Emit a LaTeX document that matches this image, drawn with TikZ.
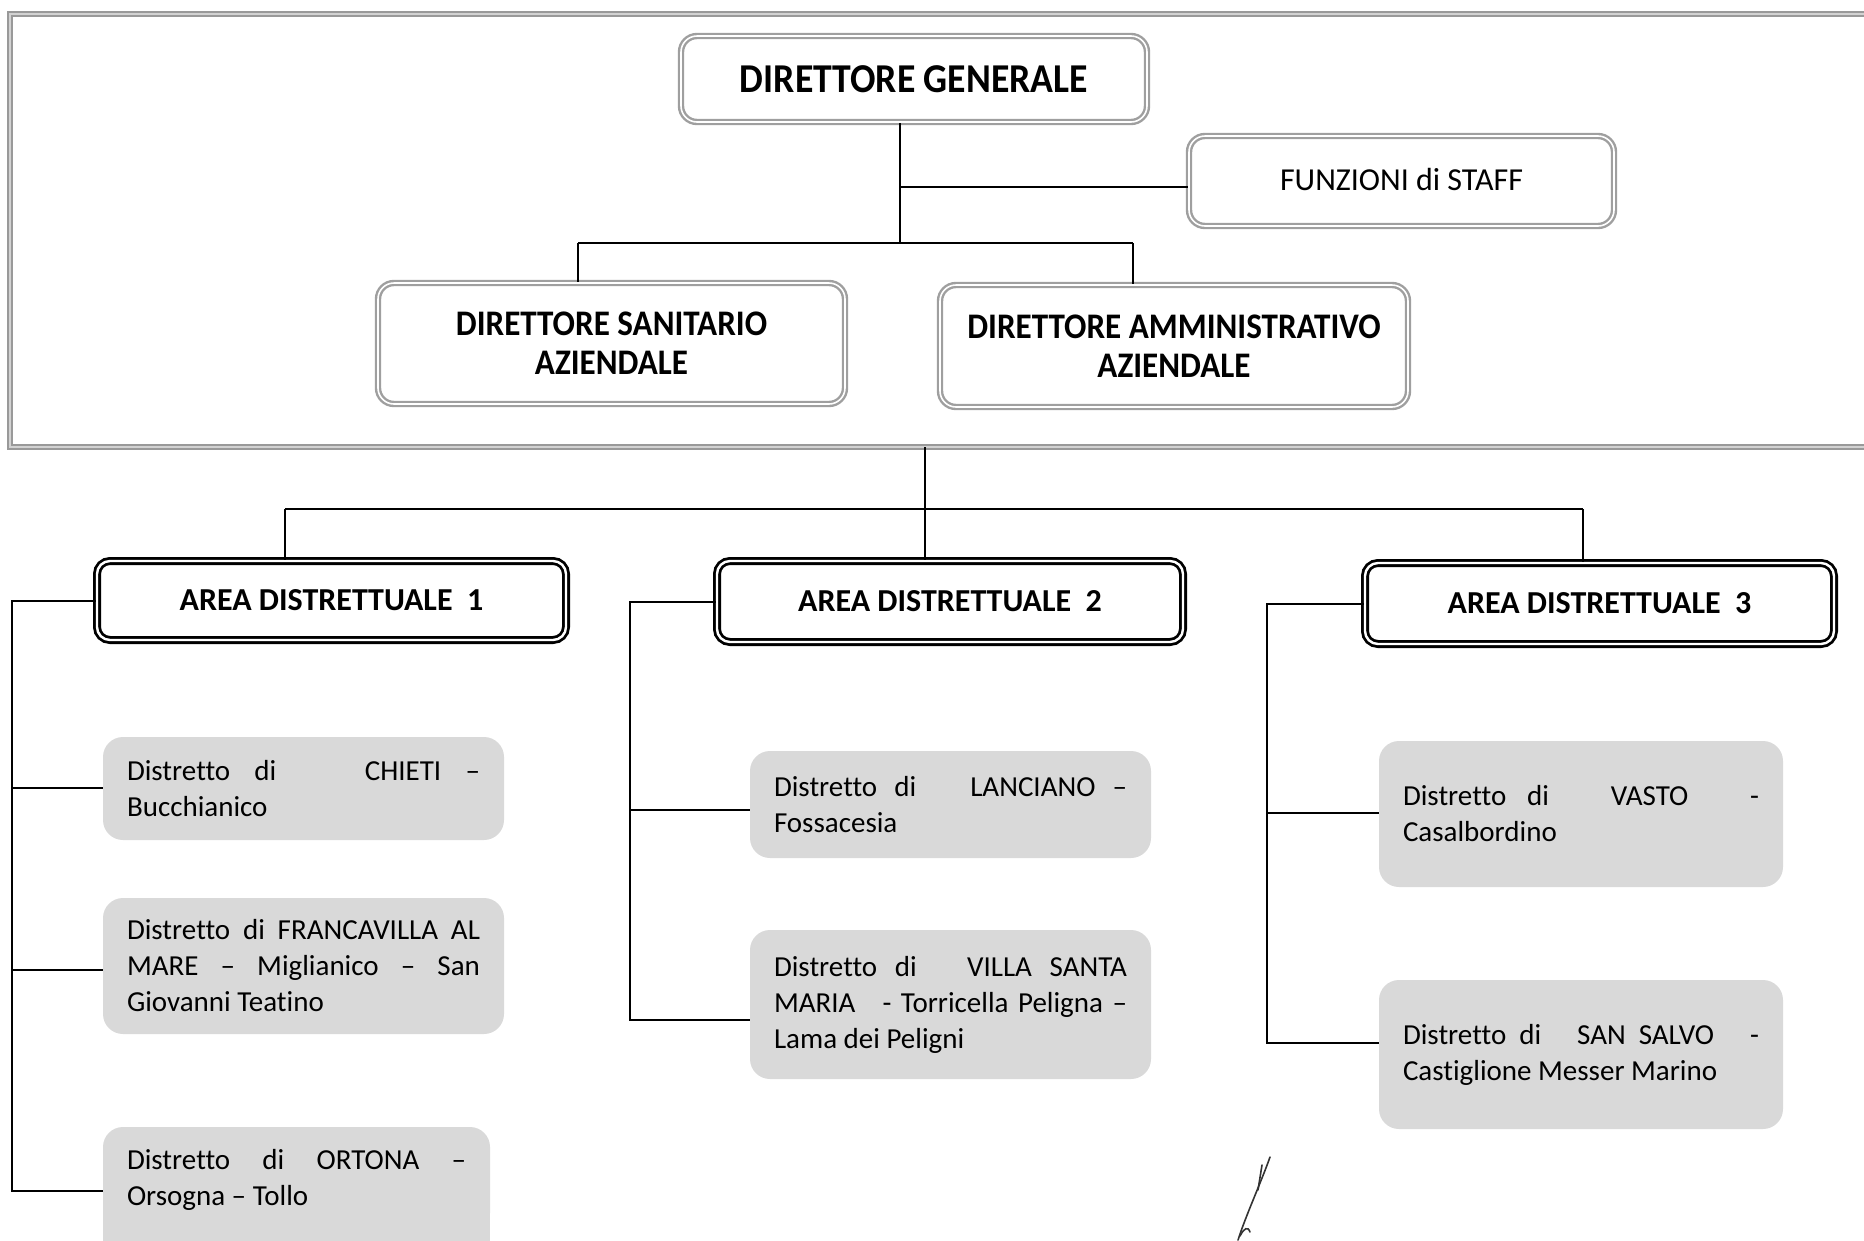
\documentclass[tikz,border=0pt]{standalone}
\usepackage{fontspec}
\setmainfont{Carlito}[Ligatures={NoCommon}]
\newfontfamily\topfont[FakeStretch=0.92,Ligatures={NoCommon}]{Carlito}
\begin{document}
\begin{tikzpicture}[x=1pt,y=-1pt,
  conn/.style={line width=2pt, black},
  topbox/.style={draw=gray!75, line width=2.4pt, double=white, double distance=1.6pt,
    rounded corners=16pt, align=center, inner sep=0pt},
  areabox/.style={draw=black, line width=2.8pt, double=white, double distance=2.4pt,
    rounded corners=13pt, inner sep=0pt, font=\bfseries\fontsize{32}{36}\selectfont},
  distbox/.style={fill=gray!30, rounded corners=20pt, inner xsep=24pt, inner ysep=0pt,
    align=justify, font=\fontsize{29}{36}\selectfont},
  frame/.style={draw=gray!80, line width=2.2pt, double=gray!35, double distance=1.5pt},
  sig/.style={line width=1.6pt, black!80, line cap=round}
]
\useasboundingbox (0,0) rectangle (1864,1240);

% outer frame
\draw[frame] (10,14) rectangle (1890,447);

% top boxes
\node[topbox, minimum width=466pt, minimum height=86pt,
  font=\topfont\bfseries\fontsize{41}{44}\selectfont] (dg) at (914,79) {DIRETTORE GENERALE};
\node[topbox, minimum width=425pt, minimum height=90pt,
  font=\fontsize{32}{36}\selectfont] (staff) at (1401.5,181) {\raisebox{3pt}{FUNZIONI di STAFF}};
\node[topbox, minimum width=467pt, minimum height=121pt,
  font=\topfont\bfseries\fontsize{36}{39}\selectfont] (ds) at (611.5,343.5) {DIRETTORE SANITARIO\\AZIENDALE};
\node[topbox, minimum width=468pt, minimum height=122pt,
  font=\topfont\bfseries\fontsize{36}{39}\selectfont] (da) at (1174,346) {DIRETTORE AMMINISTRATIVO\\AZIENDALE};

% area boxes
\node[areabox, minimum width=469pt, minimum height=79pt] (a1) at (331.5,600.5) {AREA DISTRETTUALE\ \ 1};
\node[areabox, minimum width=466pt, minimum height=81pt] (a2) at (950,601.5) {AREA DISTRETTUALE\ \ 2};
\node[areabox, minimum width=469pt, minimum height=81pt] (a3) at (1599.5,603.5) {AREA DISTRETTUALE\ \ 3};

% district boxes
\node[distbox, text width=353pt, minimum height=103pt] (d11) at (303.5,788.5)
  {Distretto di \hspace{40pt} CHIETI –\linebreak Bucchianico};
\node[distbox, text width=353pt, minimum height=136pt] (d12) at (303.5,966)
  {Distretto di FRANCAVILLA AL\linebreak MARE – Miglianico – San\linebreak Giovanni Teatino};
\fill[gray!30] (103,1150) rectangle (490,1250);
\node[distbox, text width=339pt, minimum height=106pt] (d13) at (296.5,1180)
  {Distretto di ORTONA –\linebreak Orsogna – Tollo};
\node[distbox, text width=353pt, minimum height=107pt] (d21) at (950.5,804.5)
  {Distretto di \hspace{20pt} LANCIANO –\linebreak Fossacesia};
\node[distbox, text width=353pt, minimum height=149pt] (d22) at (950.5,1004.5)
  {Distretto di \hspace{15pt} VILLA SANTA\linebreak MARIA \hspace{8pt} - Torricella Peligna –\linebreak Lama dei Peligni};
\node[distbox, text width=356pt, minimum height=146pt] (d31) at (1581,814)
  {Distretto di \hspace{20pt} VASTO \hspace{20pt} -\linebreak Casalbordino};
\node[distbox, text width=356pt, minimum height=149pt] (d32) at (1581,1054.5)
  {Distretto di \hspace{10pt} SAN SALVO \hspace{10pt} -\linebreak Castiglione Messer Marino};

% top tree connectors
\coordinate (j1) at (900,243);
\coordinate (js) at (900,187);
\coordinate (hl) at (578,243);
\coordinate (hr) at (1133,243);
\draw[conn] (dg.south -| j1) -- (j1);
\draw[conn] (js) -- (js -| staff.west);
\draw[conn] (hl) -- (hr);
\draw[conn] (hl) -- (ds.north -| hl);
\draw[conn] (hr) -- (da.north -| hr);

% area connectors
\coordinate (fb) at (925,447);
\coordinate (h1) at (285,509);
\coordinate (h3) at (1583,509);
\draw[conn] (fb) -- (a2.north -| fb);
\draw[conn] (h1) -- (h3);
\draw[conn] (h1) -- (a1.north -| h1);
\draw[conn] (h3) -- (a3.north -| h3);

% district connectors
\coordinate (c11) at (12,788);
\coordinate (c12) at (12,970);
\coordinate (c13) at (12,1191);
\coordinate (c21) at (630,810);
\coordinate (c22) at (630,1020);
\coordinate (c31) at (1267,813);
\coordinate (c32) at (1267,1043);
\draw[conn] (a1.west) -| (c13) -- (c13 -| d13.west);
\draw[conn] (c11) -- (c11 -| d11.west);
\draw[conn] (c12) -- (c12 -| d12.west);
\draw[conn] (a2.west) -| (c22) -- (c22 -| d22.west);
\draw[conn] (c21) -- (c21 -| d21.west);
\draw[conn] (a3.west) -| (c32) -- (c32 -| d32.west);
\draw[conn] (c31) -- (c31 -| d31.west);

% signature stroke
\draw[sig] (1270,1157) .. controls (1262,1180) and (1246,1215) .. (1238,1240);
\draw[sig] (1262,1165) -- (1258,1190);
\draw[sig] (1240,1236) .. controls (1244,1228) and (1248,1226) .. (1250,1232);
\end{tikzpicture}
\end{document}
